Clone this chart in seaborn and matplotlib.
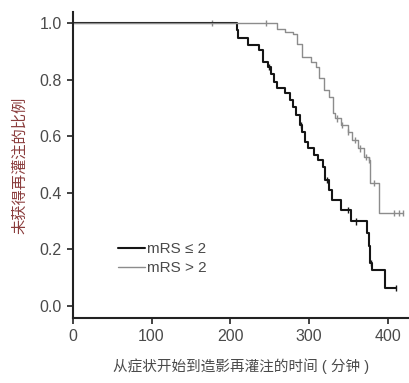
import numpy as np
import pandas as pd
import matplotlib
matplotlib.use("Agg")
import matplotlib.pyplot as plt
import seaborn as sns

# ---- data (Kaplan-Meier style step curves) ----
GROUPS = ["mRS ≤ 2", "mRS > 2"]

# mRS <= 2 (black)
le2_time = [0, 208, 210, 223, 236, 242, 248, 252, 255, 259, 270, 276, 280, 284,
            288, 291, 295, 299, 306, 312, 318, 320, 325, 329, 340, 353, 374,
            376, 378, 380, 396, 410]
le2_surv = [1.0, 0.975, 0.946, 0.922, 0.905, 0.863, 0.846, 0.822, 0.793, 0.770,
            0.752, 0.728, 0.705, 0.675, 0.640, 0.616, 0.581, 0.557, 0.534,
            0.516, 0.492, 0.445, 0.410, 0.375, 0.339, 0.299, 0.258, 0.211,
            0.152, 0.129, 0.064, 0.064]
le2_censor = [249, 290, 323, 350, 360, 379, 410]

# mRS > 2 (gray)
gt2_time = [0, 259, 270, 280, 285, 291, 303, 309, 313, 319, 325, 331, 333, 341,
            349, 355, 362, 370, 376, 378, 389, 420]
gt2_surv = [1.0, 0.981, 0.969, 0.963, 0.928, 0.881, 0.863, 0.846, 0.805, 0.764,
            0.740, 0.681, 0.663, 0.640, 0.616, 0.587, 0.557, 0.528, 0.516,
            0.434, 0.328, 0.328]
gt2_censor = [177, 246, 335, 342, 350, 358, 365, 372, 376, 383, 408, 414, 420]

X_TICKS = [0, 100, 200, 300, 400]
Y_TICKS = [0.0, 0.2, 0.4, 0.6, 0.8, 1.0]


def step_value(times, surv, t):
    i = np.searchsorted(times, t, side="right") - 1
    return surv[max(i, 0)]


curves = pd.concat([
    pd.DataFrame({"time": le2_time, "surv": le2_surv, "group": GROUPS[0]}),
    pd.DataFrame({"time": gt2_time, "surv": gt2_surv, "group": GROUPS[1]}),
], ignore_index=True)

censors = pd.concat([
    pd.DataFrame({"time": le2_censor,
                  "surv": [step_value(le2_time, le2_surv, t) for t in le2_censor],
                  "group": GROUPS[0]}),
    pd.DataFrame({"time": gt2_censor,
                  "surv": [step_value(gt2_time, gt2_surv, t) for t in gt2_censor],
                  "group": GROUPS[1]}),
], ignore_index=True)

sns.set_style("ticks")
plt.rcParams["font.family"] = ["Liberation Sans", "Noto Sans CJK SC", "DejaVu Sans"]

palette = {GROUPS[0]: "#151515", GROUPS[1]: "#8c8c8c"}
TXT = "#4a4a4a"

fig = plt.figure(figsize=(4.09, 3.83), dpi=100)
ax = fig.add_axes([0.178, 0.170, 0.822, 0.799])

sns.lineplot(data=curves, x="time", y="surv", hue="group", palette=palette,
             estimator=None, sort=False, drawstyle="steps-post", ax=ax,
             legend=False)
for line, lw in zip(ax.get_lines(), [1.5, 1.0]):
    line.set_linewidth(lw)

sns.scatterplot(data=censors, x="time", y="surv", hue="group", palette=palette,
                marker="|", s=20, linewidth=1.0, ax=ax, legend=False)

# legend handles
for g, lw in zip(GROUPS, [1.5, 1.0]):
    ax.plot([], [], color=palette[g], lw=lw, label=g)
leg = ax.legend(loc="lower left", bbox_to_anchor=(0.115, 0.12), frameon=False,
                handlelength=1.8, handletextpad=0.15, labelspacing=0.3,
                fontsize=11, borderaxespad=0)
for t in leg.get_texts():
    t.set_color(TXT)

ax.set_xlim(0, 427)
ax.set_ylim(-0.042, 1.04)
ax.set_xticks(X_TICKS)
ax.set_yticks(Y_TICKS)
ax.set_yticklabels([f"{v:.1f}" for v in Y_TICKS])
ax.tick_params(axis="both", direction="out", length=4, width=1.2,
               labelsize=11.5, labelcolor=TXT, color="#222222", pad=4)
sns.despine(ax=ax)
for s in ["left", "bottom"]:
    ax.spines[s].set_linewidth(1.5)
    ax.spines[s].set_color("#222222")

ax.set_xlabel("从症状开始到造影再灌注的时间 ( 分钟 )", fontsize=10.5,
              color=TXT, labelpad=10)
ax.set_ylabel("未获得再灌注的比例", fontsize=11, color="#8a3c3c", labelpad=9)

fig.savefig("out.png", dpi=100)
